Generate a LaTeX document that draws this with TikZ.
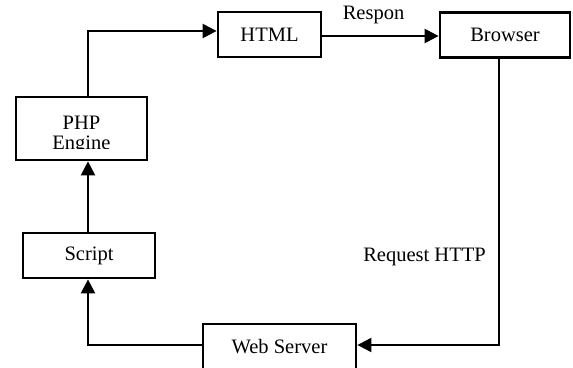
\documentclass[tikz,border=0pt]{standalone}
\usepackage{fontspec}
\setmainfont{Liberation Serif}
\usetikzlibrary{arrows.meta}
\begin{document}
\begin{tikzpicture}[x=1pt,y=-1pt,
  box/.style={draw,line width=2.8pt,inner sep=0pt},
  conn/.style={line width=2.4pt,-{Triangle[length=14pt,width=14pt]}},
  lbl/.style={inner sep=0pt,anchor=base},
  font=\fontsize{20.5}{20}\selectfont]
\useasboundingbox (0,0) rectangle (573,367);
\clip (0,0) rectangle (573,367);
\node[box,minimum width=103pt,minimum height=45pt] (html) at (269.5,34.5) {HTML};
\node[box,minimum width=130pt,minimum height=45pt] (br) at (505,35) {Browser};
\node[box,minimum width=131pt,minimum height=63pt] (php) at (81.5,128.5) {};
\node[box,minimum width=132pt,minimum height=45pt] (script) at (89,255.5) {Script};
\node[box,minimum width=153pt,minimum height=46pt] (ws) at (279.5,347) {};
\node[lbl] (wst) at (279.5,353) {Web Server};
\begin{scope}
  \clip (15,96) rectangle (148,148);
  \node[lbl] (phpa) at (81.5,129) {PHP};
  \node[lbl] (phpb) at (81.5,149) {Engine};
\end{scope}
\node[lbl] (resp) at (373.5,19) {Respon};
\node[lbl] (req) at (424.5,261) {Request HTTP};
\coordinate (c1) at (88,31);
\coordinate (c2) at (88,345);
\coordinate (c3) at (499,345);
\draw[conn] (php.north -| c1) -- (c1) -- (c1 -| html.west);
\draw[conn] (html.east |- 0,36) -- (br.west |- 0,36);
\draw[conn,line width=2pt] (c3 |- br.south) -- (c3) -- (c3 -| ws.east);
\draw[conn] (c2 -| ws.west) -- (c2) -- (c2 |- script.south);
\draw[conn] (script.north -| c1) -- (c1 |- php.south);
\end{tikzpicture}
\end{document}
